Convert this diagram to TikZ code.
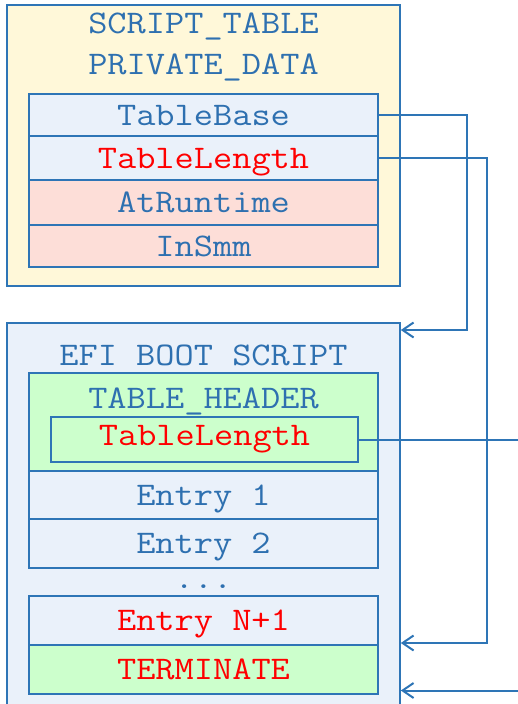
\documentclass[tikz,border=0pt]{standalone}
\usepackage{fontspec}
\newfontfamily\codefont{Latin Modern Mono}[FakeStretch=1.13]
\usetikzlibrary{arrows.meta}
\definecolor{lineblue}{RGB}{46,117,182}
\definecolor{textblue}{RGB}{46,112,176}
\definecolor{privbg}{RGB}{255,248,217}
\definecolor{bootbg}{RGB}{234,241,250}
\definecolor{flagbg}{RGB}{253,222,216}
\definecolor{hdrbg}{RGB}{204,255,204}

\begin{document}
\begin{tikzpicture}[x=1pt,y=-1pt,
  every node/.style={font=\codefont\fontsize{33}{38}\selectfont, text=textblue, inner sep=0pt},
  box/.style={draw=lineblue, line width=1.6pt},
  row/.style={box, minimum width=349pt, text height=20pt, text depth=0pt},
  link/.style={draw=lineblue, line width=2pt, -{Straight Barb[length=11pt,width=15pt]}}]
        \useasboundingbox (0,0) rectangle (518,704);
        % private data block
        \node[box, fill=privbg, minimum width=393pt, minimum height=281pt] (priv) at (203.5,145.5) {};
        \node[text height=20pt] (privtitle) at (203.5,27) {SCRIPT\_TABLE};
        \node[text height=20pt] (privname) at (203.5,67.5) {PRIVATE\_DATA};
        \node[row, fill=bootbg, minimum height=42pt] (base) at (203.5,115) {TableBase};
        \node[row, fill=bootbg, minimum height=44pt, text=red] (len) at (203.5,158) {TableLength};
        \node[row, fill=flagbg, minimum height=44pt] (rt) at (203.5,202.5) {AtRuntime};
        \node[row, fill=flagbg, minimum height=42pt] (smm) at (203.5,246) {InSmm};
        % boot script block
        \node[box, fill=bootbg, minimum width=393pt, minimum height=391pt] (boot) at (203.5,518.5) {};
        \node[text height=20pt] (boottitle) at (203.5,355.5) {EFI BOOT SCRIPT};
        \node[row, fill=hdrbg, minimum height=98pt] (hdr) at (203.5,422) {};
        \node[text height=20pt] (hdrtitle) at (203.5,401.5) {TABLE\_HEADER};
        \node[box, fill=hdrbg, minimum width=307pt, minimum height=45pt, text height=20pt, text=red] (hdrlen) at (204.5,439.5) {TableLength};
        \node[row, fill=bootbg, minimum height=48pt] (e1) at (203.5,495) {Entry 1};
        \node[row, fill=bootbg, minimum height=49pt] (e2) at (203.5,543.5) {Entry 2};
        \node[anchor=base] (dots) at (203.5,588) {...};
        \node[row, fill=bootbg, minimum height=49pt, text=red] (en) at (203.5,620.5) {Entry N+1};
        \node[row, fill=hdrbg, minimum height=49pt, text=red] (term) at (203.5,669.5) {TERMINATE};
        % connectors
        \coordinate (tapout) at (518,439.5);
        \coordinate (tapin) at (518,690.5);
        \draw[link] (base.east) -- ++(88,0) |- (boot.east |- 0,330);
        \draw[link] (len.east) -- ++(108,0) |- (boot.east |- 0,643);
        \draw[link, -] (hdrlen.east) -- (hdrlen.east -| tapout);
        \draw[link] (tapin) -- (tapin -| boot.east);
\end{tikzpicture}
\end{document}
